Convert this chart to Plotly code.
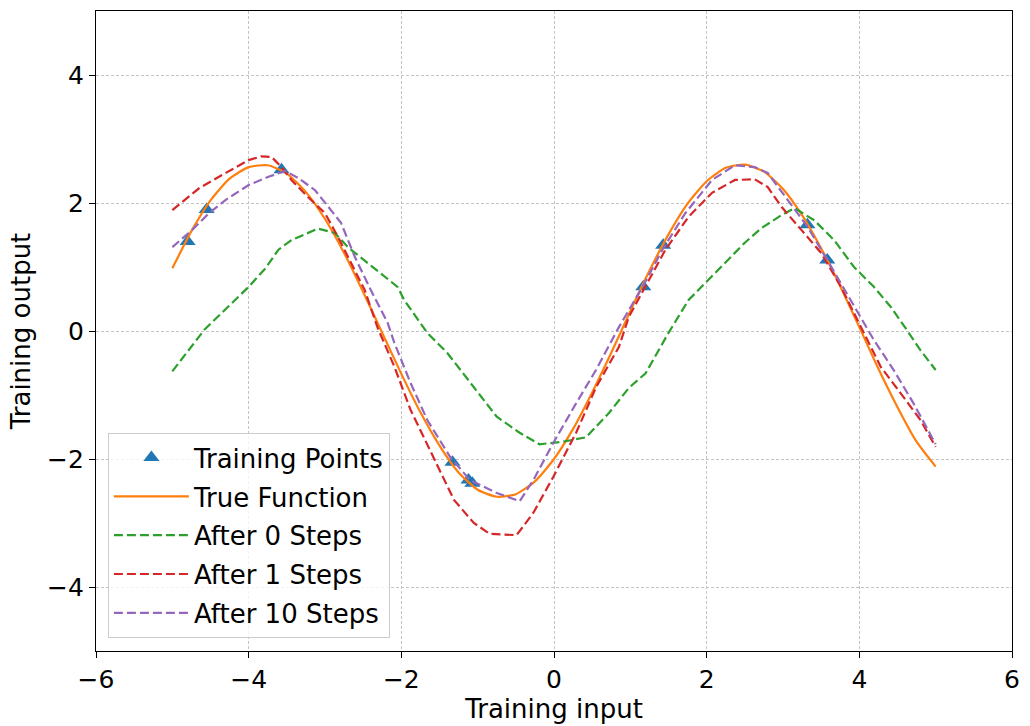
import plotly.graph_objects as go

# Training points
pts_x = [-4.80, -4.55, -3.57, -1.33, -1.12, -1.07, 1.17, 1.43, 3.32, 3.58]
pts_y = [1.40, 1.90, 2.52, -2.05, -2.33, -2.38, 0.69, 1.34, 1.66, 1.11]

# True function
true_x = [-5.0, -4.75, -4.5, -4.25, -4.0, -3.75, -3.5, -3.25, -3.0, -2.75, -2.5, -2.25, -2.0,
          -1.75, -1.5, -1.25, -1.0, -0.75, -0.5, -0.25, 0.0, 0.25, 0.5, 0.75, 1.0, 1.25, 1.5,
          1.75, 2.0, 2.25, 2.5, 2.75, 3.0, 3.25, 3.5, 3.75, 4.0, 4.25, 4.5, 4.75, 5.0]
true_y = [0.98, 1.56, 2.04, 2.38, 2.56, 2.59, 2.46, 2.17, 1.75, 1.22, 0.61, -0.03, -0.67,
          -1.27, -1.79, -2.21, -2.48, -2.59, -2.55, -2.35, -2.00, -1.53, -0.96, -0.34, 0.31,
          0.94, 1.51, 1.99, 2.34, 2.55, 2.60, 2.49, 2.22, 1.81, 1.29, 0.70, 0.06, -0.59,
          -1.19, -1.73, -2.12]

# After 0 steps
s0_x = [-5.0, -4.58, -4.0, -3.78, -3.61, -3.44, -3.09, -2.87, -2.70, -2.35, -2.05, -1.96,
        -1.66, -1.40, -1.05, -0.75, -0.45, -0.19, 0.12, 0.42, 0.72, 0.98, 1.20, 1.50, 1.76,
        1.98, 2.28, 2.50, 2.72, 2.98, 3.15, 3.41, 3.67, 3.93, 4.19, 4.41, 4.62, 4.80, 5.0]
s0_y = [-0.63, 0.02, 0.69, 0.98, 1.27, 1.42, 1.60, 1.53, 1.31, 0.98, 0.69, 0.48,
        -0.03, -0.34, -0.88, -1.34, -1.59, -1.77, -1.73, -1.66, -1.28, -0.89, -0.66, -0.03,
        0.48, 0.75, 1.11, 1.38, 1.61, 1.81, 1.92, 1.73, 1.42, 1.00, 0.69, 0.38, 0.02,
        -0.30, -0.61]

# After 1 step
s1_x = [-5.0, -4.65, -4.30, -4.0, -3.83, -3.70, -3.57, -3.44, -3.22, -3.0, -2.83, -2.66,
        -2.48, -2.31, -2.09, -1.88, -1.66, -1.31, -1.05, -0.84, -0.49, -0.27, -0.01, 0.29,
        0.55, 0.85, 0.98, 1.24, 1.46, 1.76, 2.07, 2.37, 2.63, 2.80, 2.98, 3.24, 3.50, 3.76,
        4.02, 4.28, 4.54, 4.80, 5.0]
s1_y = [1.89, 2.23, 2.47, 2.67, 2.73, 2.72, 2.56, 2.36, 2.09, 1.84, 1.47, 1.06,
        0.64, 0.05, -0.56, -1.23, -1.78, -2.64, -3.00, -3.17, -3.19, -2.84, -2.28, -1.59,
        -0.88, -0.25, 0.22, 0.80, 1.27, 1.78, 2.16, 2.36, 2.37, 2.25, 1.94, 1.58, 1.22, 0.69,
        0.06, -0.56, -0.97, -1.39, -1.81]

# After 10 steps
s10_x = [-5.0, -4.74, -4.52, -4.30, -4.0, -3.74, -3.52, -3.35, -3.13, -2.96, -2.79, -2.61,
         -2.40, -2.18, -2.09, -1.88, -1.66, -1.36, -1.10, -0.75, -0.45, -0.27, -0.01, 0.29,
         0.55, 0.85, 1.16, 1.42, 1.72, 2.07, 2.37, 2.63, 2.80, 3.06, 3.32, 3.58, 3.93, 4.19,
         4.45, 4.71, 5.0]
s10_y = [1.31, 1.58, 1.84, 2.05, 2.28, 2.41, 2.50, 2.39, 2.20, 1.94, 1.69, 1.16,
         0.64, 0.13, -0.19, -0.81, -1.39, -1.97, -2.33, -2.53, -2.66, -2.33, -1.75, -1.13,
         -0.61, 0.06, 0.69, 1.27, 1.84, 2.36, 2.59, 2.56, 2.47, 2.05, 1.63, 1.11, 0.38, -0.14,
         -0.61, -1.13, -1.77]

x_ticks = [-6, -4, -2, 0, 2, 4, 6]
y_ticks = [-4, -2, 0, 2, 4]

DASH = "9px,4px"
FS = 25
FT = 26
fig = go.Figure()
fig.add_trace(go.Scatter(x=pts_x, y=pts_y, mode="markers", name="Training Points", legendgroup="a",
                         marker=dict(symbol="triangle-up", size=14, color="#1f77b4")))
fig.add_trace(go.Scatter(x=true_x, y=true_y, mode="lines", name="True Function", legendgroup="b",
                         line=dict(color="#ff7f0e", width=2.2, shape="spline", smoothing=0.6)))
fig.add_trace(go.Scatter(x=s0_x, y=s0_y, mode="lines", name="After 0 Steps", legendgroup="c",
                         line=dict(color="#2ca02c", width=2.2, dash=DASH)))
fig.add_trace(go.Scatter(x=s1_x, y=s1_y, mode="lines", name="After 1 Steps", legendgroup="d",
                         line=dict(color="#d62728", width=2.2, dash=DASH)))
fig.add_trace(go.Scatter(x=s10_x, y=s10_y, mode="lines", name="After 10 Steps", legendgroup="e",
                         line=dict(color="#9467bd", width=2.2, dash=DASH)))

axis_common = dict(showgrid=True, gridcolor="#c4c4c4", griddash="3px,2px", gridwidth=0.8,
                   showline=True, linecolor="black", linewidth=1.2, mirror=True,
                   ticks="outside", ticklen=6, tickwidth=1.2, tickcolor="black",
                   zeroline=False, tickfont=dict(size=FS, color="black"))
fig.update_xaxes(range=[-6, 6], tickvals=x_ticks,
                 title=dict(text="Training input", font=dict(size=FT, color="black"), standoff=0),
                 **axis_common)
fig.update_yaxes(range=[-5, 5], tickvals=y_ticks,
                 title=dict(text="Training output", font=dict(size=FT, color="black"), standoff=8),
                 **axis_common)

fig.update_layout(
    width=1030, height=726,
    margin=dict(l=96, r=11, t=10, b=75),
    plot_bgcolor="white", paper_bgcolor="white",
    font=dict(family="DejaVu Sans", color="black"),
    legend=dict(x=0.013, y=0.02, xanchor="left", yanchor="bottom",
                bgcolor="rgba(255,255,255,0.8)", bordercolor="#cccccc", borderwidth=1,
                font=dict(size=FT, color="black"), tracegroupgap=2, itemwidth=75),
)

fig.write_html("out.html")
